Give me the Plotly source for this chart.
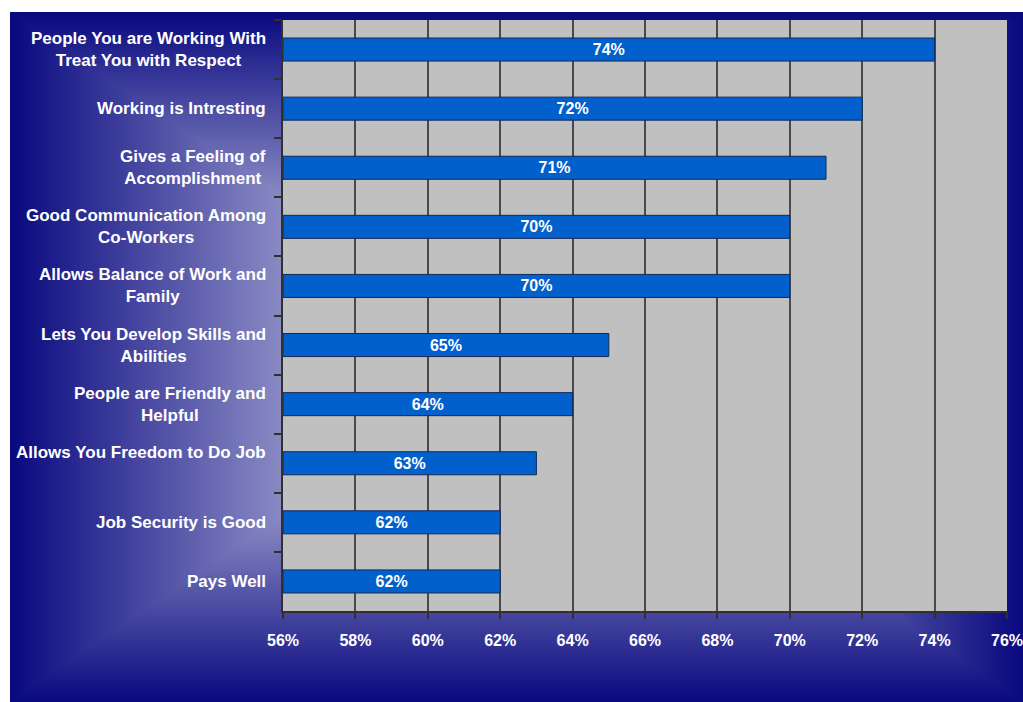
import plotly.graph_objects as go

# ---- data ----
categories = [
    "People You are Working With<br>Treat You with Respect",
    "Working is Intresting",
    "Gives a Feeling of<br>Accomplishment",
    "Good Communication Among<br>Co-Workers",
    "Allows Balance of Work and<br>Family",
    "Lets You Develop Skills and<br>Abilities",
    "People are Friendly and<br>Helpful",
    "Allows You Freedom to Do Job<br> ",
    "Job Security is Good",
    "Pays Well",
]
values = [74, 72, 71, 70, 70, 65, 64, 63, 62, 62]
axis_min = 56
axis_max = 76
tick_vals = [56, 58, 60, 62, 64, 66, 68, 70, 72, 74, 76]
tick_text = ["56%", "58%", "60%", "62%", "64%", "66%", "68%", "70%", "72%", "74%", "76%"]

# ---- layout geometry ----
W, H = 1023, 702
L, R, T, B = 283, 16, 20, 91
PW, PH = W - L - R, H - T - B

def px(x):
    return (x - L) / PW

def py(y):
    return (H - B - y) / PH

FONT = "Arial, 'Liberation Sans', sans-serif"

fig = go.Figure()
fig.add_trace(go.Bar(
    y=categories,
    x=[v - axis_min for v in values],
    base=axis_min,
    orientation="h",
    marker=dict(color="#0260CC", line=dict(color="#12285A", width=1)),
    text=[f"{v}%" for v in values],
    textposition="inside",
    insidetextanchor="middle",
    constraintext="none",
    textfont=dict(color="white", size=16, family=FONT, weight="bold"),
    hoverinfo="skip",
))

# background gradient (rectangular, from edges to centre)
shapes = []
c0 = (10, 10, 128)
c1 = (250, 250, 255)
box = (10, 12, 1023, 702)
hw = (box[2] - box[0]) / 2
hh = (box[3] - box[1]) / 2
N = 70
tmax = 0.6
for i in range(N):
    t = i / N * tmax
    col = tuple(int(round(c0[k] + (c1[k] - c0[k]) * t)) for k in range(3))
    shapes.append(dict(
        type="rect", xref="paper", yref="paper", layer="below",
        x0=px(box[0] + t * hw), x1=px(box[2] - t * hw),
        y0=py(box[3] - t * hh), y1=py(box[1] + t * hh),
        fillcolor="rgb(%d,%d,%d)" % col, line=dict(width=0),
    ))
shapes.append(dict(
    type="rect", xref="paper", yref="paper", layer="below",
    x0=0, x1=1, y0=0, y1=1, fillcolor="#C0C0C0", line=dict(width=0),
))

annotations = []
for c in categories:
    annotations.append(dict(
        x=0, xref="paper", y=c, yref="y", xanchor="right", yanchor="middle",
        xshift=-15, align="center", showarrow=False, text=c,
        font=dict(color="white", size=17, family=FONT, weight="bold"),
    ))

fig.update_layout(
    width=W, height=H, autosize=False,
    margin=dict(l=L, r=R, t=T, b=B, autoexpand=False),
    paper_bgcolor="white",
    plot_bgcolor="#C0C0C0",
    showlegend=False,
    bargap=0.61,
    shapes=shapes,
    annotations=annotations,
    xaxis=dict(
        range=[axis_min, axis_max],
        tickvals=tick_vals, ticktext=tick_text,
        showgrid=True, gridcolor="#4A4A4A", gridwidth=1.5,
        showline=True, linecolor="#303030", linewidth=1.5,
        ticks="outside", ticklen=6, tickcolor="#303030", tickwidth=1.5,
        ticklabelstandoff=8,
        ticklabeloverflow="allow",
        automargin=False,
        tickfont=dict(color="white", size=16, family=FONT, weight="bold"),
        zeroline=False, fixedrange=True,
    ),
    yaxis=dict(
        autorange="reversed",
        showticklabels=False,
        showgrid=False,
        showline=True, linecolor="#303030", linewidth=1.5,
        ticks="outside", tickson="boundaries", ticklen=7,
        tickcolor="#303030", tickwidth=1.5,
        automargin=False,
        fixedrange=True,
    ),
)

fig.write_html(
    "out.html",
    config={"displayModeBar": False, "responsive": False},
    post_script="document.body.style.margin='0';document.body.style.overflow='hidden';",
)
